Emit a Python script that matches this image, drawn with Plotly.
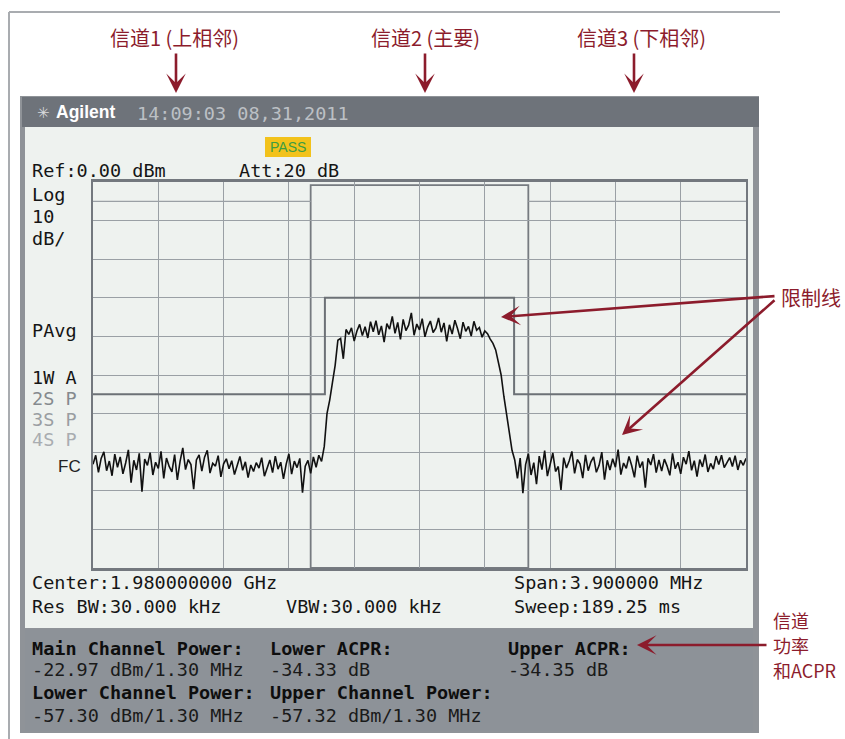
import numpy as np
import plotly.graph_objects as go

W, H = 845, 739

# ---------------- data ----------------
center_ghz = 1.98
span_mhz = 3.9
n_points = 241

floor_left = [
    -73.1, -70.8, -75.2, -71.6, -69.9, -74.8, -72.3, -76.1, -70.5, -73.9,
    -71.2, -75.6, -72.8, -69.4, -77.9, -72.1, -74.6, -70.3, -80.2, -71.8,
    -73.4, -70.1, -75.9, -72.6, -74.2, -69.8, -76.8, -71.5, -73.7, -75.1,
    -70.6, -77.2, -72.4, -68.9, -74.5, -71.9, -73.2, -79.6, -72.0, -70.7,
    -74.9, -71.3, -69.5, -75.4, -72.9, -73.6, -70.9, -76.4, -73.0, -71.7,
    -74.3, -72.2, -75.8, -73.5, -71.1, -74.7, -72.5, -76.6, -73.3, -75.0,
    -72.7, -74.1, -71.4, -76.2, -73.8, -72.0, -75.3, -71.0, -74.4, -72.6,
    -76.9, -73.1, -70.4, -75.7, -72.3, -74.0, -71.6, -80.5, -73.6, -72.1,
    -75.5, -71.2, -73.9, -70.8, -72.4]
rise = [-68.5, -60.0, -56.5, -52.0, -47.5, -41.0]
plateau = [
    -40.5, -45.8, -38.2, -39.5, -37.8, -41.2, -38.6, -36.9, -39.8, -37.5,
    -40.4, -36.2, -38.8, -35.9, -39.6, -37.3, -41.5, -36.7, -38.1, -34.8,
    -39.2, -36.4, -40.8, -35.6, -38.5, -37.1, -33.9, -39.7, -36.8, -38.3,
    -35.4, -40.1, -37.6, -36.0, -39.0, -37.9, -35.2, -38.9, -36.5, -41.3,
    -37.0, -39.4, -35.8, -38.0, -40.6, -36.3, -38.7, -37.4, -39.9, -36.1,
    -38.4, -37.7, -40.2, -38.6, -39.3, -40.7, -41.8]
fall = [-43.5, -46.5, -50.0, -55.5, -60.0, -65.0, -69.5, -72.0]
floor_right = [
    -76.8, -71.5, -80.6, -73.2, -70.4, -75.9, -72.7, -78.3, -71.0, -74.5,
    -69.6, -76.2, -72.9, -70.2, -75.0, -73.7, -79.8, -71.4, -74.1, -72.3,
    -69.8, -75.5, -71.9, -73.0, -76.7, -70.7, -74.8, -72.5, -71.2, -75.2,
    -73.4, -70.0, -77.1, -72.1, -74.6, -71.7, -73.9, -69.3, -75.8, -72.8,
    -74.2, -71.1, -73.5, -76.5, -70.9, -74.0, -72.4, -79.2, -71.6, -73.3,
    -70.5, -75.3, -72.0, -74.9, -71.8, -73.6, -76.0, -70.3, -74.3, -72.6,
    -75.6, -71.3, -73.1, -69.7, -74.7, -72.2, -76.3, -71.9, -73.8, -70.6,
    -75.1, -72.9, -74.4, -71.0, -73.2, -70.8, -74.0, -72.5, -71.4, -73.7,
    -70.9, -74.6, -72.1, -73.4, -71.6]
trace_dbm = floor_left + rise + plateau + fall + floor_right
freq_offset_mhz = np.linspace(-span_mhz / 2, span_mhz / 2, n_points)

limit_x = [-1.95, -0.565, 0.565, 1.95]
limit_y = [-55, -30, -55, -55]
channel_bw_mhz = 1.30

ref_level = 0
db_per_div = 10

# ---------------- styles ----------------
MONO = "DejaVu Sans Mono"
SANS = "Liberation Sans"
CJK = "Noto Sans CJK SC"
RED = "#8c1c2c"
SCREEN = "#eef2ef"
HEADER = "#6e737a"
PANEL = "#8d9298"
GRID = "#9aa0a5"
FRAME = "#73787e"

fig = go.Figure()

fig.add_trace(go.Scatter(x=limit_x, y=limit_y, mode="lines", line_shape="hv",
                         line=dict(color="#6c7176", width=2), hoverinfo="skip"))
fig.add_trace(go.Scatter(x=freq_offset_mhz, y=trace_dbm, mode="lines",
                         line=dict(color="#111111", width=1.6), hoverinfo="skip"))


def px_x(x):
    return x / W


def px_y(y):
    return 1 - y / H


def rect(x0, y0, x1, y1, fill, lw=0, lc=None):
    fig.add_shape(type="rect", xref="paper", yref="paper",
                  x0=px_x(x0), x1=px_x(x1), y0=px_y(y1), y1=px_y(y0),
                  fillcolor=fill, line=dict(width=lw, color=lc or fill), layer="below")


def line(x0, y0, x1, y1, color, w):
    fig.add_shape(type="line", xref="paper", yref="paper",
                  x0=px_x(x0), x1=px_x(x1), y0=px_y(y0), y1=px_y(y1),
                  line=dict(color=color, width=w), layer="below")


def txt(s, x, y, size=18.5, color="#151515", family=MONO, anchor="left"):
    fig.add_annotation(x=px_x(x), y=px_y(y), xref="paper", yref="paper", text=s,
                       showarrow=False, xanchor=anchor, yanchor="middle", align="left",
                       borderpad=0, font=dict(family=family, size=size, color=color))


def arrow(tx, ty, sx, sy):
    fig.add_annotation(x=px_x(tx), y=px_y(ty), xref="paper", yref="paper",
                       ax=sx - tx, ay=sy - ty, axref="pixel", ayref="pixel",
                       text="", showarrow=True, arrowhead=3, arrowsize=1.25,
                       arrowwidth=2.6, arrowcolor=RED, standoff=0)


# page frame lines
line(9, 12, 9, 739, "#a9acb0", 2)
line(9, 12, 780, 12, "#a9acb0", 2)

# instrument screen
rect(20, 96, 759, 733, "#8f9398")
rect(22, 97, 759, 127, HEADER)
rect(25, 127, 753, 628, SCREEN)
rect(25, 629, 753, 731, PANEL)

# PASS badge
rect(265, 137, 311, 157, "#f2c21b")
txt("PASS", 288, 147, size=14, color="#3c9c42", family=SANS, anchor="center")

# channel box and display line
fig.add_shape(type="rect", xref="x", yref="y", x0=-channel_bw_mhz / 2, x1=channel_bw_mhz / 2,
              y0=-100, y1=-0.8, line=dict(color="#767b80", width=1.8), layer="below")
for xa, xb in [(-1.95, -channel_bw_mhz / 2), (channel_bw_mhz / 2, 1.95)]:
    fig.add_shape(type="line", xref="x", yref="y", x0=xa, x1=xb, y0=-5, y1=-5,
                  line=dict(color=GRID, width=1.2), layer="below")

# header
txt("✳", 36, 113, size=15, color="#d8dadd", family="DejaVu Sans")
txt("<b>Agilent</b>", 55, 112, size=17.5, color="#ffffff", family=SANS)
txt("14:09:03 08,31,2011", 136, 113, size=18.5, color="#bcc0c5")

# screen text
txt("Ref:0.00 dBm", 31, 171)
txt("Att:20 dB", 238, 171)
txt("Log", 31, 195)
txt("10", 31, 216)
txt("dB/", 31, 238)
txt("PAvg", 31, 330)
txt("1W A", 31, 377)
txt("2S P", 31, 398, color="#858a8e")
txt("3S P", 31, 419, color="#9a9ea2")
txt("4S P", 31, 440, color="#a9adb1")
txt("FC", 57, 466, size=17, color="#222222", family=SANS)
txt("Center:1.980000000 GHz", 31, 582)
txt("Span:3.900000 MHz", 513, 582)
txt("Res BW:30.000 kHz", 31, 606)
txt("VBW:30.000 kHz", 285, 606)
txt("Sweep:189.25 ms", 513, 606)

# bottom panel
txt("<b>Main Channel Power:</b>", 31, 648, color="#0e0e0e")
txt("<b>Lower ACPR:</b>", 269, 648, color="#0e0e0e")
txt("<b>Upper ACPR:</b>", 507, 648, color="#0e0e0e")
txt("-22.97 dBm/1.30 MHz", 31, 669, color="#1a1a1a")
txt("-34.33 dB", 269, 669, color="#1a1a1a")
txt("-34.35 dB", 507, 669, color="#1a1a1a")
txt("<b>Lower Channel Power:</b>", 31, 692, color="#0e0e0e")
txt("<b>Upper Channel Power:</b>", 269, 692, color="#0e0e0e")
txt("-57.30 dBm/1.30 MHz", 31, 715, color="#1a1a1a")
txt("-57.32 dBm/1.30 MHz", 269, 715, color="#1a1a1a")

# red callouts
txt("信道1 (上相邻)", 174, 37, size=20, color=RED, family=CJK, anchor="center")
txt("信道2 (主要)", 425, 37, size=20, color=RED, family=CJK, anchor="center")
txt("信道3 (下相邻)", 641, 37, size=20, color=RED, family=CJK, anchor="center")
for ax_ in (176, 425, 634):
    arrow(ax_, 93, ax_, 52)

txt("限制线", 780, 297, size=20, color=RED, family=CJK)
arrow(501, 317, 776, 296)
arrow(622, 435, 776, 299)

txt("信道", 772, 620, size=18, color=RED, family=CJK)
txt("功率", 772, 645, size=18, color=RED, family=CJK)
txt("和ACPR", 772, 670, size=18, color=RED, family=CJK)
arrow(637, 645, 768, 645)

fig.update_layout(
    width=W, height=H, margin=dict(l=0, r=0, t=0, b=0),
    paper_bgcolor="#ffffff", plot_bgcolor=SCREEN, showlegend=False,
    xaxis=dict(domain=[93 / W, 746 / W], range=[-span_mhz / 2, span_mhz / 2],
               tick0=-span_mhz / 2, dtick=span_mhz / 10, showticklabels=False, ticks="",
               showgrid=True, gridcolor=GRID, gridwidth=1.2, zeroline=False,
               showline=True, linecolor=FRAME, linewidth=2.5, mirror=True, fixedrange=True),
    yaxis=dict(domain=[1 - 568 / H, 1 - 182 / H], range=[ref_level - 10 * db_per_div, ref_level],
               tick0=0, dtick=db_per_div, showticklabels=False, ticks="",
               showgrid=True, gridcolor=GRID, gridwidth=1.2, zeroline=False,
               showline=True, linecolor=FRAME, linewidth=2, mirror=True, fixedrange=True),
)

fig.write_html(
    "out.html",
    config={"displayModeBar": False},
    post_script="document.body.style.margin='0';document.body.style.padding='0';"
                "document.body.style.overflow='hidden';",
)
